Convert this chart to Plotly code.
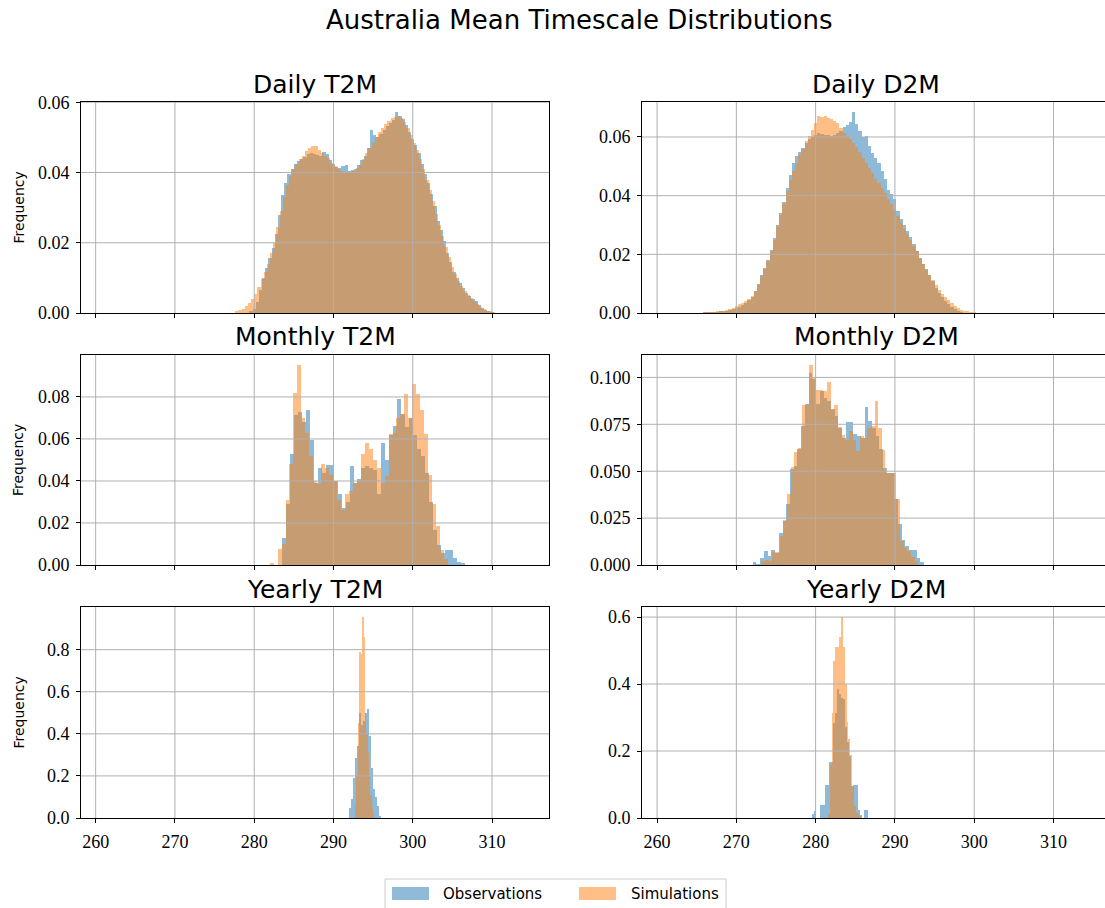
import plotly.graph_objects as go

# ---------------------------------------------------------------------------
# Histogram densities (K on x).  Each series: (first bin centre, bin width)
# followed by the bin heights.
# ---------------------------------------------------------------------------

# Daily T2M
daily_t2m_obs_bins = (279.6, 0.4)
daily_t2m_obs = [
    0.0005, 0.0012, 0.0030, 0.0065, 0.0100, 0.0128, 0.0157, 0.0185, 0.0225, 0.0280,
    0.0335, 0.0370, 0.0395, 0.0410, 0.0425, 0.0432, 0.0438, 0.0445, 0.0452, 0.0455,
    0.0452, 0.0450, 0.0446, 0.0458, 0.0452, 0.0435, 0.0425, 0.0415, 0.0413, 0.0418,
    0.0422, 0.0405, 0.0408, 0.0410, 0.0420, 0.0435, 0.0448, 0.0470, 0.0520, 0.0508,
    0.0500, 0.0510, 0.0522, 0.0532, 0.0540, 0.0550, 0.0572, 0.0560, 0.0552, 0.0535,
    0.0515, 0.0495, 0.0478, 0.0455, 0.0425, 0.0395, 0.0370, 0.0338, 0.0305, 0.0262,
    0.0235, 0.0205, 0.0172, 0.0145, 0.0118, 0.0100, 0.0085, 0.0070, 0.0056, 0.0048,
    0.0040, 0.0033, 0.0022, 0.0014, 0.0008, 0.0004, 0.0002,
]
daily_t2m_sim_bins = (277.8, 0.4)
daily_t2m_sim = [
    0.0004, 0.0008, 0.0012, 0.0020, 0.0028, 0.0040, 0.0055, 0.0075, 0.0098, 0.0118,
    0.0140, 0.0170, 0.0200, 0.0245, 0.0290, 0.0330, 0.0365, 0.0390, 0.0410, 0.0425,
    0.0438, 0.0448, 0.0460, 0.0470, 0.0475, 0.0476, 0.0465, 0.0455, 0.0448, 0.0440,
    0.0428, 0.0418, 0.0410, 0.0405, 0.0402, 0.0400, 0.0400, 0.0405, 0.0412, 0.0422,
    0.0438, 0.0455, 0.0470, 0.0485, 0.0500, 0.0515, 0.0528, 0.0538, 0.0547, 0.0554,
    0.0558, 0.0562, 0.0556, 0.0545, 0.0528, 0.0508, 0.0485, 0.0465, 0.0438, 0.0410,
    0.0378, 0.0350, 0.0318, 0.0282, 0.0250, 0.0218, 0.0188, 0.0158, 0.0130, 0.0110,
    0.0092, 0.0078, 0.0064, 0.0052, 0.0044, 0.0035, 0.0026, 0.0018, 0.0012, 0.0007,
    0.0004, 0.0002,
]

# Daily D2M
daily_d2m_obs_bins = (266.0, 0.4)
daily_d2m_obs = [
    0.0001, 0.0001, 0.0002, 0.0002, 0.0003, 0.0004, 0.0006, 0.0008, 0.0010, 0.0013,
    0.0017, 0.0022, 0.0028, 0.0035, 0.0045, 0.0056, 0.0075, 0.0098, 0.0130, 0.0155,
    0.0182, 0.0215, 0.0255, 0.0300, 0.0340, 0.0380, 0.0425, 0.0470, 0.0510, 0.0535,
    0.0550, 0.0562, 0.0578, 0.0592, 0.0600, 0.0608, 0.0612, 0.0610, 0.0608, 0.0606,
    0.0604, 0.0608, 0.0612, 0.0620, 0.0635, 0.0642, 0.0652, 0.0685, 0.0645, 0.0620,
    0.0600, 0.0605, 0.0570, 0.0545, 0.0530, 0.0510, 0.0485, 0.0458, 0.0420, 0.0405,
    0.0390, 0.0348, 0.0322, 0.0300, 0.0280, 0.0260, 0.0235, 0.0210, 0.0188, 0.0168,
    0.0150, 0.0130, 0.0108, 0.0085, 0.0068, 0.0055, 0.0042, 0.0030, 0.0020, 0.0013,
    0.0006, 0.0002,
]
daily_d2m_sim_bins = (266.0, 0.4)
daily_d2m_sim = [
    0.0002, 0.0002, 0.0003, 0.0003, 0.0004, 0.0005, 0.0007, 0.0009, 0.0012, 0.0017,
    0.0024, 0.0029, 0.0034, 0.0040, 0.0047, 0.0058, 0.0075, 0.0095, 0.0125, 0.0150,
    0.0178, 0.0210, 0.0250, 0.0295, 0.0335, 0.0370, 0.0415, 0.0455, 0.0485, 0.0510,
    0.0540, 0.0560, 0.0585, 0.0605, 0.0625, 0.0648, 0.0672, 0.0668, 0.0670, 0.0665,
    0.0662, 0.0655, 0.0648, 0.0630, 0.0615, 0.0605, 0.0592, 0.0580, 0.0565, 0.0548,
    0.0530, 0.0512, 0.0495, 0.0478, 0.0458, 0.0442, 0.0425, 0.0408, 0.0390, 0.0372,
    0.0352, 0.0330, 0.0308, 0.0288, 0.0270, 0.0250, 0.0230, 0.0210, 0.0188, 0.0168,
    0.0148, 0.0130, 0.0113, 0.0095, 0.0080, 0.0066, 0.0055, 0.0044, 0.0033, 0.0024,
    0.0017, 0.0011, 0.0007, 0.0005, 0.0003, 0.0002,
]

# Monthly T2M
monthly_t2m_obs_bins = (283.78, 0.5)
monthly_t2m_obs = [
    0.0130, 0.0290, 0.0530, 0.0715, 0.0730, 0.0680, 0.0736, 0.0596, 0.0390, 0.0460,
    0.0440, 0.0477, 0.0475, 0.0400, 0.0340, 0.0270, 0.0300, 0.0470, 0.0390, 0.0410,
    0.0460, 0.0470, 0.0460, 0.0450, 0.0340, 0.0580, 0.0500, 0.0620, 0.0660, 0.0790,
    0.0720, 0.0655, 0.0700, 0.0620, 0.0550, 0.0520, 0.0440, 0.0300, 0.0165, 0.0095,
    0.0055, 0.0070, 0.0070, 0.0035, 0.0015, 0.0010,
]
monthly_t2m_sim_bins = (282.2, 0.5)
monthly_t2m_sim = [
    0.0011, 0.0000, 0.0075, 0.0100, 0.0310, 0.0480, 0.0820, 0.0952, 0.0700, 0.0630,
    0.0520, 0.0400, 0.0385, 0.0480, 0.0460, 0.0430, 0.0400, 0.0310, 0.0260, 0.0340,
    0.0350, 0.0390, 0.0400, 0.0530, 0.0580, 0.0550, 0.0500, 0.0460, 0.0390, 0.0425,
    0.0625, 0.0630, 0.0700, 0.0720, 0.0815, 0.0700, 0.0860, 0.0815, 0.0740, 0.0625,
    0.0430, 0.0290, 0.0186, 0.0070, 0.0030,
]

# Monthly D2M
monthly_d2m_obs_bins = (272.3, 0.47)
monthly_d2m_obs = [
    0.0016, 0.0005, 0.0037, 0.0075, 0.0050, 0.0080, 0.0066, 0.0170, 0.0235, 0.0324,
    0.0510, 0.0530, 0.0620, 0.0740, 0.0858, 0.1025, 0.0990, 0.0860, 0.0930, 0.0890,
    0.0875, 0.0830, 0.0795, 0.0730, 0.0676, 0.0760, 0.0760, 0.0698, 0.0690, 0.0676,
    0.0843, 0.0765, 0.0730, 0.0690, 0.0616, 0.0516, 0.0490, 0.0488, 0.0350, 0.0217,
    0.0132, 0.0101, 0.0080, 0.0078, 0.0036, 0.0018,
]
monthly_d2m_sim_bins = (273.4, 0.46)
monthly_d2m_sim = [
    0.0020, 0.0025, 0.0020, 0.0070, 0.0068, 0.0155, 0.0238, 0.0380, 0.0520, 0.0600,
    0.0626, 0.0854, 0.0854, 0.1066, 0.0996, 0.0932, 0.0932, 0.0925, 0.0973, 0.0827,
    0.0852, 0.0737, 0.0694, 0.0665, 0.0715, 0.0665, 0.0609, 0.0690, 0.0676, 0.0730,
    0.0742, 0.0875, 0.0730, 0.0612, 0.0490, 0.0488, 0.0488, 0.0350, 0.0128, 0.0090,
    0.0075, 0.0043, 0.0020,
]

# Yearly T2M
yearly_t2m_obs_bins = (292.12, 0.254)
yearly_t2m_obs = [
    0.048, 0.090, 0.190, 0.286, 0.340, 0.500, 0.440, 0.460, 0.500, 0.516,
    0.390, 0.238, 0.138, 0.100, 0.059, 0.011,
]
yearly_t2m_sim_bins = (292.84, 0.17)
yearly_t2m_sim = [
    0.06, 0.20, 0.45, 0.79, 0.78, 0.955, 0.86, 0.50, 0.40, 0.31,
    0.20, 0.11, 0.05, 0.02,
]

# Yearly D2M
yearly_d2m_obs_bins = (279.7, 0.26)
yearly_d2m_obs = [
    0.013, 0.020, 0.000, 0.000, 0.038, 0.038, 0.099, 0.099, 0.167, 0.167,
    0.283, 0.313, 0.384, 0.370, 0.359, 0.355, 0.273, 0.227, 0.185, 0.096,
    0.098, 0.098, 0.023, 0.010, 0.000, 0.025, 0.025,
]
yearly_d2m_sim_bins = (281.73, 0.23)
yearly_d2m_sim = [
    0.013, 0.157, 0.313, 0.470, 0.510, 0.510, 0.540, 0.600, 0.510, 0.400,
    0.288, 0.237, 0.187, 0.096, 0.035, 0.015, 0.013, 0.005,
]

panel_titles = ["Daily T2M", "Daily D2M", "Monthly T2M", "Monthly D2M", "Yearly T2M", "Yearly D2M"]
series_names = ["Observations", "Simulations"]
x_tick_values = [260, 270, 280, 290, 300, 310]
y_tick_values = [
    [0.0, 0.02, 0.04, 0.06],
    [0.0, 0.02, 0.04, 0.06],
    [0.0, 0.02, 0.04, 0.06, 0.08],
    [0.0, 0.025, 0.05, 0.075, 0.1],
    [0.0, 0.2, 0.4, 0.6, 0.8],
    [0.0, 0.2, 0.4, 0.6],
]

panels = [
    (daily_t2m_obs_bins, daily_t2m_obs, daily_t2m_sim_bins, daily_t2m_sim),
    (daily_d2m_obs_bins, daily_d2m_obs, daily_d2m_sim_bins, daily_d2m_sim),
    (monthly_t2m_obs_bins, monthly_t2m_obs, monthly_t2m_sim_bins, monthly_t2m_sim),
    (monthly_d2m_obs_bins, monthly_d2m_obs, monthly_d2m_sim_bins, monthly_d2m_sim),
    (yearly_t2m_obs_bins, yearly_t2m_obs, yearly_t2m_sim_bins, yearly_t2m_sim),
    (yearly_d2m_obs_bins, yearly_d2m_obs, yearly_d2m_sim_bins, yearly_d2m_sim),
]

# ---------------------------------------------------------------------------
# Styling / layout
# ---------------------------------------------------------------------------
W, H = 1105, 908
COLORS = ["#1f77b4", "#ff7f0e"]
LEGEND_FILL = ["rgba(31,119,180,0.5)", "rgba(255,127,14,0.5)"]
SANS = "DejaVu Sans, Arial, sans-serif"
SERIF = "Liberation Serif, Times New Roman, serif"
GRID = "#b0b0b0"

col_px = [(81, 549), (642, 1105)]
row_px = [(102, 313), (355, 565), (607, 818)]
x_ranges = [[258.15, 317.19], [258.1, 316.5]]
y_formats = [".2f", ".2f", ".2f", ".3f", ".1f", ".1f"]
panel_width = col_px[0][1] - col_px[0][0]

fig = go.Figure()
layout = dict(
    width=W, height=H,
    margin=dict(l=0, r=0, t=0, b=0, autoexpand=False),
    paper_bgcolor="white", plot_bgcolor="white",
    barmode="overlay", bargap=0,
    showlegend=False,
)
shapes = []
annotations = []


def ref(axis, n):
    return axis if n == 1 else f"{axis}{n}"


for i, (obs_bins, obs, sim_bins, sim) in enumerate(panels):
    n = i + 1
    r, c = divmod(i, 2)
    xa, ya = ref("x", n), ref("y", n)

    for k, ((start, width), vals) in enumerate([(obs_bins, obs), (sim_bins, sim)]):
        fig.add_trace(go.Bar(
            x0=start, dx=width, y=vals, width=width,
            name=series_names[k],
            marker=dict(color=COLORS[k], line=dict(width=0)),
            opacity=0.5,
            xaxis=xa, yaxis=ya,
        ))

    ymax = max(max(obs), max(sim)) * 1.05
    (x0p, x1p), (y0p, y1p) = col_px[c], row_px[r]
    common = dict(
        showline=True, linecolor="black", linewidth=1,
        ticks="outside", ticklen=4, tickwidth=1, tickcolor="black",
        showgrid=False, zeroline=False, ticklabelstandoff=3,
        tickfont=dict(family=SERIF, size=18, color="black"),
    )
    layout["xaxis" if n == 1 else f"xaxis{n}"] = dict(
        common, domain=[x0p / W, x1p / W], range=x_ranges[c], mirror=True,
        anchor=ya, tickvals=x_tick_values, showticklabels=(r == 2),
    )
    # the right-hand column runs off the page edge, so no right spine there
    layout["yaxis" if n == 1 else f"yaxis{n}"] = dict(
        common, domain=[1 - y1p / H, 1 - y0p / H], range=[0, ymax],
        mirror=(c == 0), anchor=xa, tickvals=y_tick_values[i],
        tickformat=y_formats[i],
    )

    # grid drawn over the bars
    for t in x_tick_values:
        shapes.append(dict(type="line", xref=xa, yref=f"{ya} domain",
                           x0=t, x1=t, y0=0, y1=1, layer="above",
                           line=dict(color=GRID, width=1)))
    for t in y_tick_values[i]:
        if t == 0:
            continue
        shapes.append(dict(type="line", xref=f"{xa} domain", yref=ya,
                           x0=0, x1=1, y0=t, y1=t, layer="above",
                           line=dict(color=GRID, width=1)))

    # panel title, centred on the full axes width
    centre = x0p + panel_width / 2
    annotations.append(dict(
        text=panel_titles[i], xref="paper", yref="paper",
        x=centre / W, y=1 - (y0p - 18) / H, xanchor="center", yanchor="middle",
        showarrow=False, font=dict(family=SANS, size=25, color="black"),
    ))
    if c == 0:
        annotations.append(dict(
            text="Frequency", xref="paper", yref="paper",
            x=18 / W, y=1 - (y0p + y1p) / 2 / H, xanchor="center", yanchor="middle",
            textangle=-90, showarrow=False,
            font=dict(family=SANS, size=14, color="black"),
        ))

annotations.append(dict(
    text="Australia Mean Timescale Distributions", xref="paper", yref="paper",
    x=579 / W, y=1 - 20 / H, xanchor="center", yanchor="middle",
    showarrow=False, font=dict(family=SANS, size=26, color="black"),
))

# legend box below the panels
legend_box = (385, 879, 726, 914)
legend_patches = [(392, 887, 429, 900), (579, 887, 616, 900)]
legend_text_x = [441, 629]
shapes.append(dict(
    type="rect", xref="paper", yref="paper", layer="above",
    x0=legend_box[0] / W, x1=legend_box[2] / W,
    y0=1 - legend_box[3] / H, y1=1 - legend_box[1] / H,
    fillcolor="white", line=dict(color="#cccccc", width=1),
))
for k, name in enumerate(series_names):
    px0, py0, px1, py1 = legend_patches[k]
    shapes.append(dict(
        type="rect", xref="paper", yref="paper", layer="above",
        x0=px0 / W, x1=px1 / W, y0=1 - py1 / H, y1=1 - py0 / H,
        fillcolor=LEGEND_FILL[k], line=dict(width=0),
    ))
    annotations.append(dict(
        text=name, xref="paper", yref="paper",
        x=legend_text_x[k] / W, y=1 - 894 / H, xanchor="left", yanchor="middle",
        showarrow=False, font=dict(family=SANS, size=15, color="black"),
    ))

layout["shapes"] = shapes
layout["annotations"] = annotations
fig.update_layout(**layout)
fig.write_html("out.html")
